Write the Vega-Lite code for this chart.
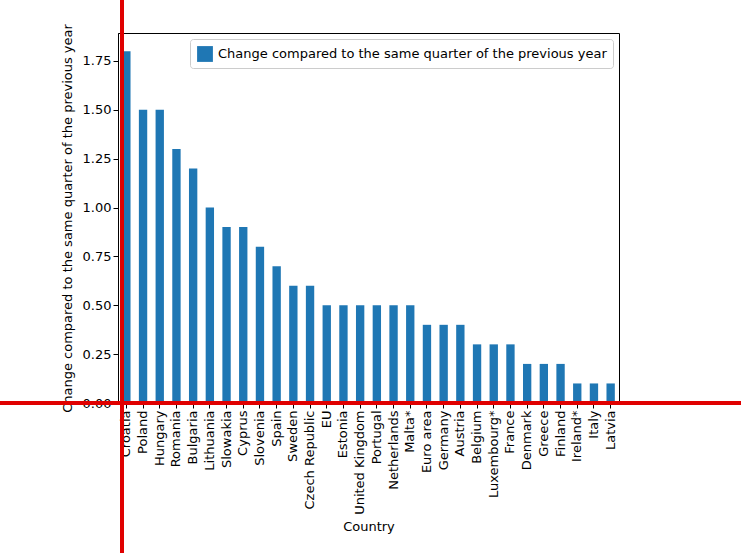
{
"$schema":"https://vega.github.io/schema/vega-lite/v6.json",
"width":501,"height":370,
"autosize":{"type":"none"},
"padding":{"left":118,"top":33,"right":122,"bottom":150},
"background":"white",
"title":{"text":"GDP growth in EU countries compared to same quarter previous year 1st quarter 2019","font":"DejaVu Sans","fontSize":16,"fontWeight":"normal","color":"black","offset":6,"anchor":"middle","frame":"group"},
"config":{"font":"DejaVu Sans","view":{"stroke":"black","strokeWidth":1},"axis":{"labelFont":"DejaVu Sans","titleFont":"DejaVu Sans","labelFontSize":13,"titleFontSize":13,"titleFontWeight":"normal","labelColor":"black","titleColor":"black","domainColor":"black","tickColor":"black","grid":false}},
"data":{"values":[
{"c":"Croatia","v":1.8},{"c":"Poland","v":1.5},{"c":"Hungary","v":1.5},{"c":"Romania","v":1.3},{"c":"Bulgaria","v":1.2},{"c":"Lithuania","v":1.0},{"c":"Slowakia","v":0.9},{"c":"Cyprus","v":0.9},{"c":"Slovenia","v":0.8},{"c":"Spain","v":0.7},{"c":"Sweden","v":0.6},{"c":"Czech Republic","v":0.6},{"c":"EU","v":0.5},{"c":"Estonia","v":0.5},{"c":"United Kingdom","v":0.5},{"c":"Portugal","v":0.5},{"c":"Netherlands","v":0.5},{"c":"Malta*","v":0.5},{"c":"Euro area","v":0.4},{"c":"Germany","v":0.4},{"c":"Austria","v":0.4},{"c":"Belgium","v":0.3},{"c":"Luxembourg*","v":0.3},{"c":"France","v":0.3},{"c":"Denmark","v":0.2},{"c":"Greece","v":0.2},{"c":"Finland","v":0.2},{"c":"Ireland*","v":0.1},{"c":"Italy","v":0.1},{"c":"Latvia","v":0.1}
]},
"layer":[
{"mark":{"type":"bar"},
"transform":[{"calculate":"'Change compared to the same quarter of the previous year'","as":"s"}],
"encoding":{
"x":{"field":"c","type":"nominal","sort":null,"title":"Country","scale":{"paddingInner":0.5,"paddingOuter":0.25},"axis":{"labelAngle":-90,"titlePadding":6}},
"y":{"field":"v","type":"quantitative","scale":{"domain":[0,1.893],"nice":false},"title":"Change compared to the same quarter of the previous year","axis":{"values":[0,0.25,0.5,0.75,1,1.25,1.5,1.75],"format":".2f","titlePadding":8}},
"color":{"field":"s","type":"nominal","scale":{"range":["#1f77b4"]},"legend":{"title":null,"orient":"top-right","labelFontSize":13,"labelLimit":500,"symbolType":"square","symbolSize":250,"strokeColor":"#cccccc","padding":6,"cornerRadius":3,"fillColor":"white","offset":6}}
}},
{"mark":{"type":"rule","color":"#e00000","strokeWidth":3,"clip":false},"encoding":{"y":{"datum":0},"x":{"value":-118},"x2":{"value":623}}},
{"mark":{"type":"rule","color":"#e00000","strokeWidth":3,"clip":false},"encoding":{"x":{"value":4},"y":{"value":-33},"y2":{"value":520}}}
]
}
